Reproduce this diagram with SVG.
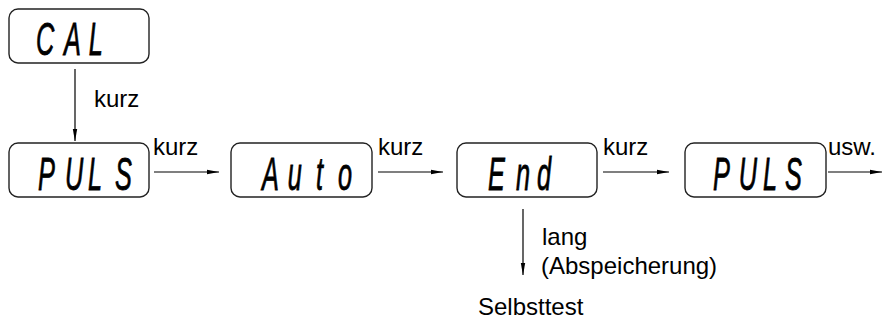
<svg xmlns="http://www.w3.org/2000/svg" width="883" height="320" viewBox="0 0 883 320">
<style>
.box{fill:#fff;stroke:#222;stroke-width:1.4}
.seg{font-family:"Liberation Sans",Arial,sans-serif;font-weight:normal;font-style:italic;font-size:46px;fill:#000;stroke:#000;stroke-width:0.8}
.lbl{font-family:"Liberation Sans",Arial,sans-serif;font-size:24px;fill:#000}
.ln{stroke:#000;stroke-width:1.2;fill:none}
</style>
<defs>
<marker id="ah" viewBox="0 0 12 6" refX="12" refY="3" markerWidth="12" markerHeight="6" markerUnits="userSpaceOnUse" orient="auto">
<path d="M0,0.8 L12,3 L0,5.2 Z" fill="#000"/>
</marker>
</defs>
<g id="node-cal">
<rect class="box" x="9" y="9" width="140" height="54" rx="9"/>
<text class="seg" transform="translate(36,55) scale(0.55,1)" x="0 51 96">CAL</text>
</g>
<g id="node-puls1">
<rect class="box" x="9" y="143" width="140" height="54" rx="9"/>
<text class="seg" transform="translate(38,190) scale(0.55,1)" x="0 49 91 140">PULS</text>
</g>
<g id="node-auto">
<rect class="box" x="231" y="143" width="141" height="54" rx="9"/>
<text class="seg" transform="translate(262,190) scale(0.55,1)" x="0 47 98 138">Auto</text>
</g>
<g id="node-end">
<rect class="box" x="457" y="143" width="140" height="54" rx="9"/>
<text class="seg" transform="translate(488,190) scale(0.55,1)" x="0 51 89">End</text>
</g>
<g id="node-puls2">
<rect class="box" x="685" y="143" width="141" height="54" rx="9"/>
<text class="seg" transform="translate(713,190) scale(0.55,1)" x="0 47 91 131">PULS</text>
</g>
<g id="node-selbsttest">
<text class="lbl" x="478" y="315">Selbsttest</text>
</g>
<g id="connectors">
<line class="ln" x1="75" y1="69" x2="75" y2="141" marker-end="url(#ah)"/>
<line class="ln" x1="154" y1="172" x2="219" y2="172" marker-end="url(#ah)"/>
<line class="ln" x1="378" y1="172" x2="443" y2="172" marker-end="url(#ah)"/>
<line class="ln" x1="603" y1="172" x2="669" y2="172" marker-end="url(#ah)"/>
<line class="ln" x1="828" y1="172" x2="882" y2="172" marker-end="url(#ah)"/>
<line class="ln" x1="523" y1="209" x2="523" y2="275" marker-end="url(#ah)"/>
<text class="lbl" x="94" y="107">kurz</text>
<text class="lbl" x="153" y="155">kurz</text>
<text class="lbl" x="378" y="155">kurz</text>
<text class="lbl" x="603" y="155">kurz</text>
<text class="lbl" x="828" y="155">usw.</text>
<text class="lbl" x="542" y="245">lang</text>
<text class="lbl" x="541" y="274">(Abspeicherung)</text>
</g>
</svg>
